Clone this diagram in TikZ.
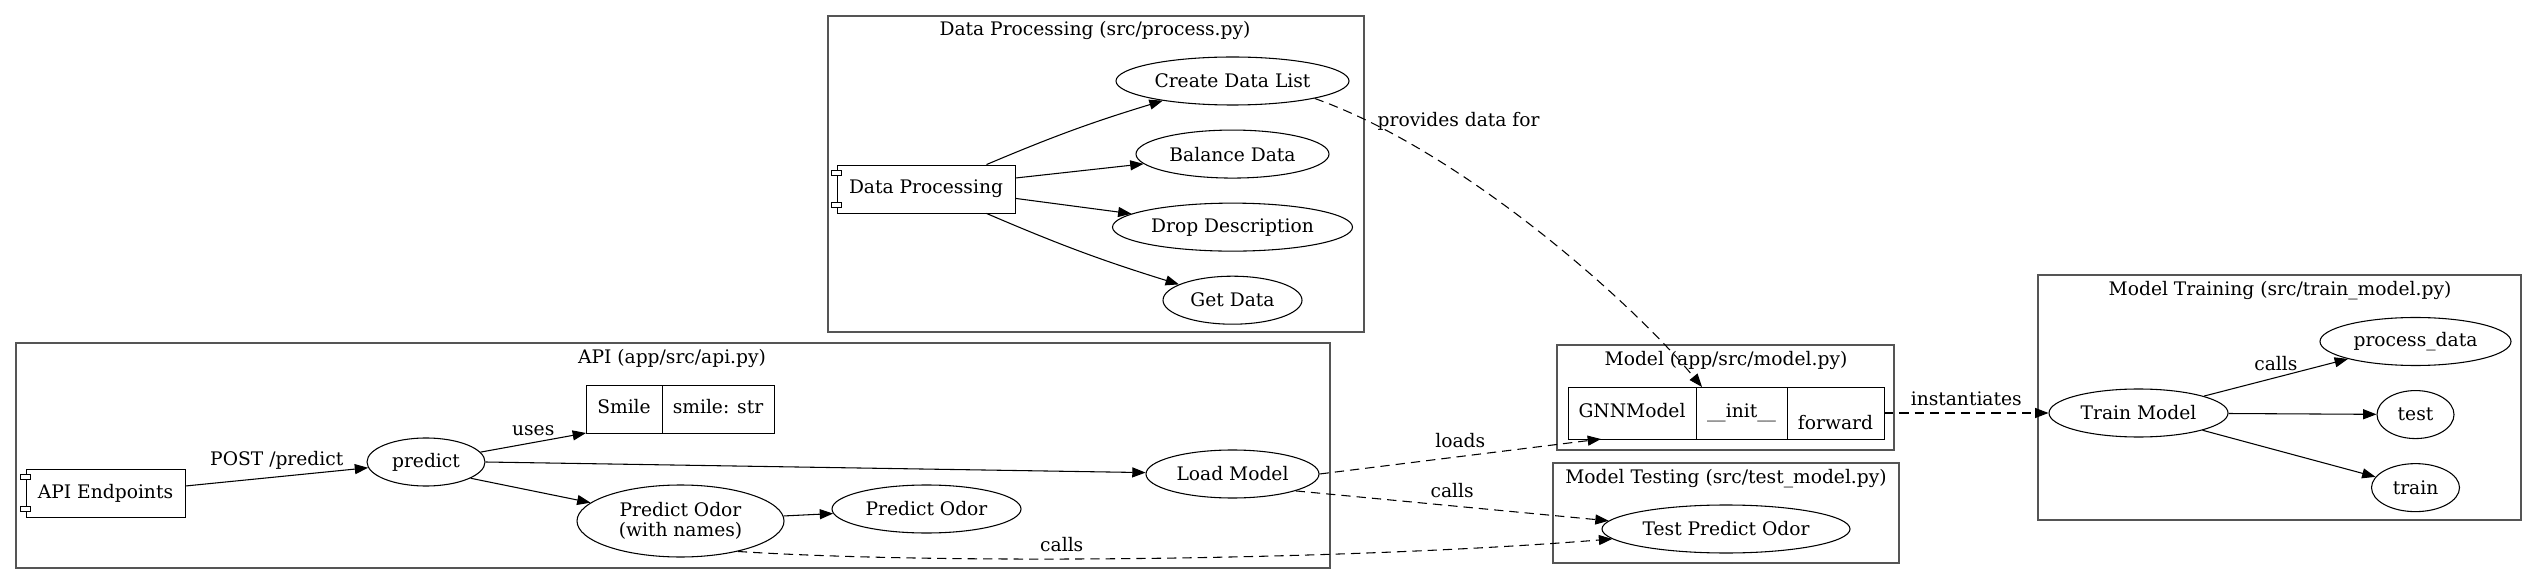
\documentclass[tikz,border=0pt]{standalone}
\usepackage{fontspec}
\setmainfont{DejaVu Serif}
\usetikzlibrary{shapes.geometric, arrows.meta, positioning, calc}
\definecolor{clustergray}{RGB}{85,85,85}

\begin{document}
\begin{tikzpicture}[
    x=0.75pt, y=-0.75pt,
    every node/.style={font=\fontsize{14pt}{15pt}\selectfont},
    proc/.style={ellipse, draw, line width=0.8pt, inner sep=0pt, minimum height=36pt},
    comp/.style={rectangle, draw, fill=white, line width=0.65pt, inner sep=0pt, minimum height=36pt},
    field/.style={rectangle, draw, line width=0.65pt, inner sep=0pt, outer sep=0pt, text height=10pt, text depth=3pt},
    cluster/.style={draw=clustergray, line width=1.2pt},
    ctitle/.style={inner sep=0pt},
    elabel/.style={inner sep=2pt},
    arrow/.style={-{Triangle[length=10pt, width=7.5pt]}, line width=0.8pt},
    dasharrow/.style={arrow, dash pattern=on 7pt off 4.5pt}
]
\useasboundingbox (0,0) rectangle (2537,584);

% Clusters
\draw[cluster] (828,16) rectangle (1364,332);
\draw[cluster] (16,343) rectangle (1330,568);
\draw[cluster] (1557,345) rectangle (1894,450);
\draw[cluster] (1553,463) rectangle (1899,563);
\draw[cluster] (2038,275) rectangle (2521,520);
\node[ctitle] (tdp) at (1095,30) {Data Processing (src/process.py)};
\node[ctitle] (tapi) at (672,358) {API (app/src/api.py)};
\node[ctitle] (tmodel) at (1726,360) {Model (app/src/model.py)};
\node[ctitle] (ttest) at (1726,479) {Model Testing (src/test\_model.py)};
\node[ctitle] (ttrain) at (2280,291) {Model Training (src/train\_model.py)};

% Data processing
\node[comp, minimum width=133.5pt] (dp) at (926,189) {Data Processing};
\node[proc, minimum width=174.75pt] (cdl) at (1232.5,81) {Create Data List};
\node[proc, minimum width=144.75pt, below=18pt of cdl] (bal) {Balance Data};
\node[proc, minimum width=180pt, below=18pt of bal] (drop) {Drop Description};
\node[proc, minimum width=104.25pt, below=18pt of drop] (getd) {Get Data};

% API
\node[comp, minimum width=119.25pt] (api) at (105.5,493) {API Endpoints};
\node[proc, minimum width=88.5pt] (predict) at (426,462) {predict};
\node[field, anchor=north west, minimum width=57pt, minimum height=36pt] (fsmile) at (586,385) {Smile};
\node[field, right=0pt of fsmile, minimum width=84pt, minimum height=36pt] (fsmstr) {smile: str};
\node[proc, minimum width=129.75pt] (load) at (1232.5,474) {Load Model};
\node[proc, minimum width=155.25pt, minimum height=54pt, align=center] (pon) at (680.5,521) {Predict Odor\\(with names)};
\node[proc, minimum width=141.75pt] (po) at (926.5,509) {Predict Odor};

% Model record
\node[field, anchor=north west, minimum width=96pt, minimum height=39pt] (fgnn) at (1568,387) {GNNModel};
\node[field, right=0pt of fgnn, minimum width=68.25pt, minimum height=39pt] (finit) {\_\_init\_\_};
\node[field, right=0pt of finit, minimum width=72.75pt, minimum height=39pt, text height=27pt] (fforward) {forward};

% Testing and training
\node[proc, minimum width=186pt] (tpo) at (1726,529) {Test Predict Odor};
\node[proc, minimum width=134.25pt] (tm) at (2138.5,413) {Train Model};
\node[proc, minimum width=143.25pt] (pdata) at (2415.5,341.5) {process\_data};
\node[proc, minimum width=57.75pt, below=18pt of pdata] (testn) {test};
\node[proc, minimum width=66pt, below=18pt of testn] (trainn) {train};

% Component tabs
\foreach \c in {dp,api} {
  \draw[line width=0.65pt, fill=white] ([xshift=-4pt,yshift=-4.5pt]\c.north west) rectangle ++(8pt,-3.75pt);
  \draw[line width=0.65pt, fill=white] ([xshift=-4pt,yshift=4.5pt]\c.south west) rectangle ++(8pt,3.75pt);
}

% Edges inside clusters
\draw[arrow] (dp.22) to[bend left=3] (cdl);
\draw[arrow] (dp.7) -- (bal);
\draw[arrow] (dp.-6) -- (drop);
\draw[arrow] (dp.-22) to[bend right=3] (getd);
\draw[arrow] (api.5) -- (predict) node[elabel, midway, above=3pt] (lpost) {POST /predict};
\draw[arrow] (predict) -- (fsmile.south west) node[elabel, midway, above=3pt] (luses) {uses};
\draw[arrow] (predict.east) -- (load);
\draw[arrow] (predict.-20) -- (pon);
\draw[arrow] (pon) -- (po);
\draw[arrow] (tm) -- (pdata) node[elabel, midway, above=3pt] (lcalls3) {calls};
\draw[arrow] (tm) -- (testn);
\draw[arrow] (tm) -- (trainn);

% Edges between clusters
\draw[dasharrow] (cdl.-12) .. controls (1460,150) and (1630,300) .. ([xshift=4.5pt]finit.north west)
  node[elabel, pos=0.12, right=5pt] (lprov) {provides data for};
\draw[dasharrow] (load.east) -- (fgnn.-140) node[elabel, midway, above=4pt] (lloads) {loads};
\draw[dasharrow] (load.-15) -- (tpo.176) node[elabel, midway, above=4pt] (lcalls1) {calls};
\draw[dasharrow] (pon.-28) .. controls (950,565) and (1350,560) .. (tpo.185)
  node[elabel, pos=0.4, above=3pt] (lcalls2) {calls};
\draw[dasharrow] (fforward.east) -- (tm.west) node[elabel, midway, above=3pt] (linst) {instantiates};

\end{tikzpicture}
\end{document}
